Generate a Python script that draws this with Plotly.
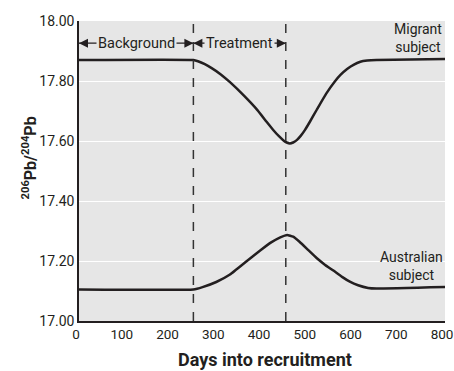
import plotly.graph_objects as go

# Isotope ratio traces (days into recruitment vs 206Pb/204Pb)
migrant_days = [0, 250, 260, 275, 290, 310, 330, 360, 390, 410, 425, 437, 447, 454, 461, 468, 476, 485,
                494, 505, 520, 540, 560, 572, 586, 600, 615, 630, 650, 800]
migrant_ratio = [17.870, 17.870, 17.866, 17.856, 17.843, 17.822, 17.796, 17.752, 17.703, 17.664, 17.636,
                 17.616, 17.602, 17.595, 17.592, 17.595, 17.603, 17.618, 17.637, 17.665, 17.705, 17.757,
                 17.800, 17.821, 17.840, 17.854, 17.864, 17.868, 17.870, 17.873]

australian_days = [0, 250, 270, 300, 330, 367, 396, 420, 440, 455, 468, 482, 500, 520, 538, 556, 575,
                   592, 610, 632, 650, 800]
australian_ratio = [17.105, 17.105, 17.113, 17.130, 17.155, 17.200, 17.235, 17.262, 17.279, 17.287, 17.281,
                    17.264, 17.238, 17.209, 17.187, 17.168, 17.147, 17.131, 17.119, 17.110, 17.108, 17.113]

phase_bounds = [0, 250, 452]
phase_labels = ["Background", "Treatment"]

y_ticks = [17.0, 17.2, 17.4, 17.6, 17.8, 18.0]
x_ticks = [0, 100, 200, 300, 400, 500, 600, 700, 800]

FONT = "Roboto, Liberation Sans Narrow, sans-serif"
INK = "#231f20"
BG = "#e6e6e6"

fig = go.Figure()

for xs, ys in [(migrant_days, migrant_ratio), (australian_days, australian_ratio)]:
    fig.add_trace(go.Scatter(
        x=xs, y=ys, mode="lines",
        line=dict(color=INK, width=2.5, shape="spline", smoothing=0.3),
        showlegend=False, hoverinfo="skip",
    ))

# Dashed phase boundaries
for xb in phase_bounds[1:]:
    fig.add_shape(type="line", xref="x", yref="paper", x0=xb, x1=xb, y0=0, y1=1,
                  line=dict(color="#333333", width=1.5, dash="dash"), layer="above")

# Double-headed arrows spanning each phase, with the phase name on top
arrow_y = 17.926
for i, label in enumerate(phase_labels):
    x0, x1 = phase_bounds[i], phase_bounds[i + 1]
    fig.add_trace(go.Scatter(
        x=[x0, x1], y=[arrow_y, arrow_y], mode="lines+markers",
        line=dict(color=INK, width=1.2),
        marker=dict(symbol=["arrow-left", "arrow-right"], size=9, color=INK,
                    line=dict(width=0)),
        cliponaxis=False, showlegend=False, hoverinfo="skip",
    ))
    fig.add_annotation(x=(x0 + x1) / 2, y=arrow_y, xref="x", yref="y", text=label,
                       showarrow=False, bgcolor=BG, borderpad=1,
                       font=dict(family=FONT, size=14.5, color=INK))

fig.add_annotation(x=797, y=17.945, xref="x", yref="y", text="Migrant<br>subject",
                   showarrow=False, xanchor="right", align="center",
                   font=dict(family=FONT, size=14, color=INK))
fig.add_annotation(x=799, y=17.185, xref="x", yref="y", text="Australian<br>subject",
                   showarrow=False, xanchor="right", align="center",
                   font=dict(family=FONT, size=14, color=INK))

# Axis titles
fig.add_annotation(x=0.508, y=-0.1667, xref="paper", yref="paper",
                   xanchor="center", yanchor="bottom", borderpad=0,
                   text="<b>Days into recruitment</b>", showarrow=False,
                   font=dict(family=FONT, size=18, color=INK))
fig.add_annotation(x=-0.134, y=0.545, xref="paper", yref="paper", textangle=-90,
                   xanchor="center", yanchor="middle",
                   text="<b><sup>206</sup>Pb/<sup>204</sup>Pb</b>", showarrow=False,
                   font=dict(family=FONT, size=16, color=INK))

fig.update_layout(
    width=454, height=371,
    margin=dict(l=79, r=9, t=21, b=50, autoexpand=False),
    paper_bgcolor="white", plot_bgcolor=BG,
    font=dict(family=FONT, size=13, color=INK),
    xaxis=dict(range=[0, 800], tickvals=x_ticks, ticktext=[str(v) for v in x_ticks],
               showgrid=False, zeroline=False, showline=True, linecolor=INK,
               linewidth=1.5, ticks="", tickfont=dict(size=13.5), ticklabeloverflow="allow",
               ticklabelshift=-3, automargin=False),
    yaxis=dict(range=[17.0, 18.0], tickvals=y_ticks, ticktext=[f"{v:.2f}" for v in y_ticks],
               showgrid=True, gridcolor="white", gridwidth=1.2, zeroline=False,
               showline=True, linecolor=INK, linewidth=1.5, ticks="",
               tickfont=dict(size=14), automargin=False),
)

fig.write_html("out.html")
